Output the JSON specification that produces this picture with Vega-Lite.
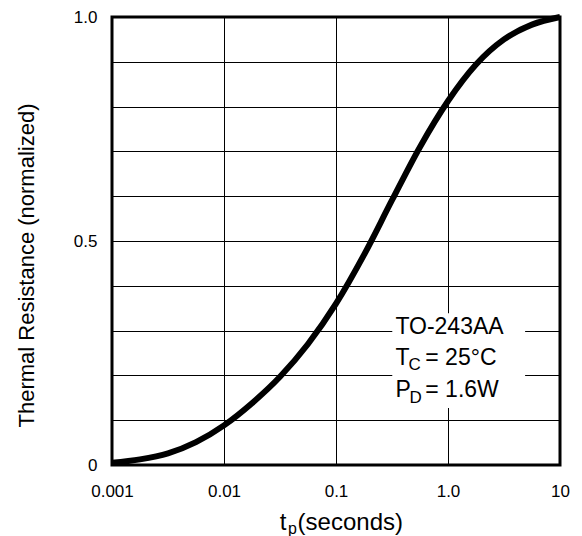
{
  "$schema": "https://vega.github.io/schema/vega-lite/v6.json",
  "autosize": {"type": "none"},
  "padding": {"left": 112, "top": 17, "right": 22, "bottom": 71},
  "width": 448,
  "height": 448,
  "background": "white",
  "config": {
    "font": "Liberation Sans",
    "view": {"stroke": "black", "strokeWidth": 3},
    "text": {"font": "Liberation Sans", "color": "black"}
  },
  "datasets": {
    "curve": [
      {"t": 0.001, "r": 0.005},
      {"t": 0.001778, "r": 0.0125},
      {"t": 0.003162, "r": 0.026},
      {"t": 0.005623, "r": 0.051},
      {"t": 0.01, "r": 0.0885},
      {"t": 0.01778, "r": 0.138},
      {"t": 0.03162, "r": 0.197},
      {"t": 0.05623, "r": 0.27},
      {"t": 0.1, "r": 0.36},
      {"t": 0.1778, "r": 0.469},
      {"t": 0.3162, "r": 0.591},
      {"t": 0.5623, "r": 0.71},
      {"t": 1.0, "r": 0.8125},
      {"t": 1.778, "r": 0.894},
      {"t": 3.162, "r": 0.95},
      {"t": 5.623, "r": 0.983},
      {"t": 10.0, "r": 1.0}
    ],
    "box": [
      {"x1": 0.318, "x2": 4.88, "y1": 0.127, "y2": 0.339}
    ],
    "notes": [
      {"x": 0.339, "y": 0.292, "label": "TO-243AA", "kind": "main"},
      {"x": 0.339, "y": 0.224, "label": "T", "kind": "main"},
      {"x": 0.443, "y": 0.211, "label": "C", "kind": "sub"},
      {"x": 0.627, "y": 0.224, "label": "= 25°C", "kind": "main"},
      {"x": 0.339, "y": 0.151, "label": "P", "kind": "main"},
      {"x": 0.452, "y": 0.138, "label": "D", "kind": "sub"},
      {"x": 0.627, "y": 0.151, "label": "= 1.6W", "kind": "main"},
      {"x": 0.0314, "y": -0.146, "label": "t", "kind": "title"},
      {"x": 0.0373, "y": -0.154, "label": "p", "kind": "titlesub"},
      {"x": 0.0454, "y": -0.146, "label": "(seconds)", "kind": "title"}
    ]
  },
  "layer": [
    {
      "data": {"name": "box"},
      "mark": {"type": "rect", "fill": "white", "stroke": null},
      "encoding": {
        "x": {"field": "x1", "type": "quantitative", "scale": {"type": "log", "domain": [0.001, 10], "nice": false},
          "axis": {
            "values": [0.001, 0.01, 0.1, 1, 10],
            "labelExpr": "datum.value == 1 ? '1.0' : datum.label",
            "grid": true, "gridColor": "black", "gridWidth": 1, "gridOpacity": 1,
            "ticks": false, "domain": false,
            "labelFontSize": 17, "labelColor": "black", "labelPadding": 18,
            "labelFont": "Liberation Sans", "labelFlush": false, "labelOverlap": false,
            "title": null
          }
        },
        "x2": {"field": "x2"},
        "y": {"field": "y1", "type": "quantitative", "scale": {"domain": [0, 1], "nice": false},
          "axis": {
            "values": [0, 0.1, 0.2, 0.3, 0.4, 0.5, 0.6, 0.7, 0.8, 0.9, 1.0],
            "labelExpr": "datum.value == 0 ? '0' : (datum.value == 0.5 ? '0.5' : (datum.value == 1 ? '1.0' : ''))",
            "grid": true, "gridColor": "black", "gridWidth": 1, "gridOpacity": 1,
            "ticks": false, "domain": false,
            "labelFontSize": 17, "labelColor": "black", "labelPadding": 15,
            "labelFont": "Liberation Sans", "labelFlush": false, "labelOverlap": false,
            "title": "Thermal Resistance (normalized)",
            "titleFont": "Liberation Sans", "titleFontSize": 22, "titleFontWeight": "normal",
            "titleColor": "black", "titleX": -86, "titleY": 248, "titleAngle": -90,
            "titleBaseline": "middle", "titleAlign": "center"
          }
        },
        "y2": {"field": "y2"}
      }
    },
    {
      "data": {"name": "curve"},
      "mark": {"type": "line", "color": "black", "strokeWidth": 6, "interpolate": "monotone"},
      "encoding": {
        "x": {"field": "t", "type": "quantitative"},
        "y": {"field": "r", "type": "quantitative"}
      }
    },
    {
      "data": {"name": "notes"},
      "transform": [{"filter": "datum.kind == 'main'"}],
      "mark": {"type": "text", "align": "left", "baseline": "alphabetic", "fontSize": 23},
      "encoding": {
        "x": {"field": "x", "type": "quantitative"},
        "y": {"field": "y", "type": "quantitative"},
        "text": {"field": "label"}
      }
    },
    {
      "data": {"name": "notes"},
      "transform": [{"filter": "datum.kind == 'sub'"}],
      "mark": {"type": "text", "align": "left", "baseline": "alphabetic", "fontSize": 17},
      "encoding": {
        "x": {"field": "x", "type": "quantitative"},
        "y": {"field": "y", "type": "quantitative"},
        "text": {"field": "label"}
      }
    },
    {
      "data": {"name": "notes"},
      "transform": [{"filter": "datum.kind == 'title'"}],
      "mark": {"type": "text", "align": "left", "baseline": "alphabetic", "fontSize": 24},
      "encoding": {
        "x": {"field": "x", "type": "quantitative"},
        "y": {"field": "y", "type": "quantitative"},
        "text": {"field": "label"}
      }
    },
    {
      "data": {"name": "notes"},
      "transform": [{"filter": "datum.kind == 'titlesub'"}],
      "mark": {"type": "text", "align": "left", "baseline": "alphabetic", "fontSize": 16},
      "encoding": {
        "x": {"field": "x", "type": "quantitative"},
        "y": {"field": "y", "type": "quantitative"},
        "text": {"field": "label"}
      }
    }
  ]
}
